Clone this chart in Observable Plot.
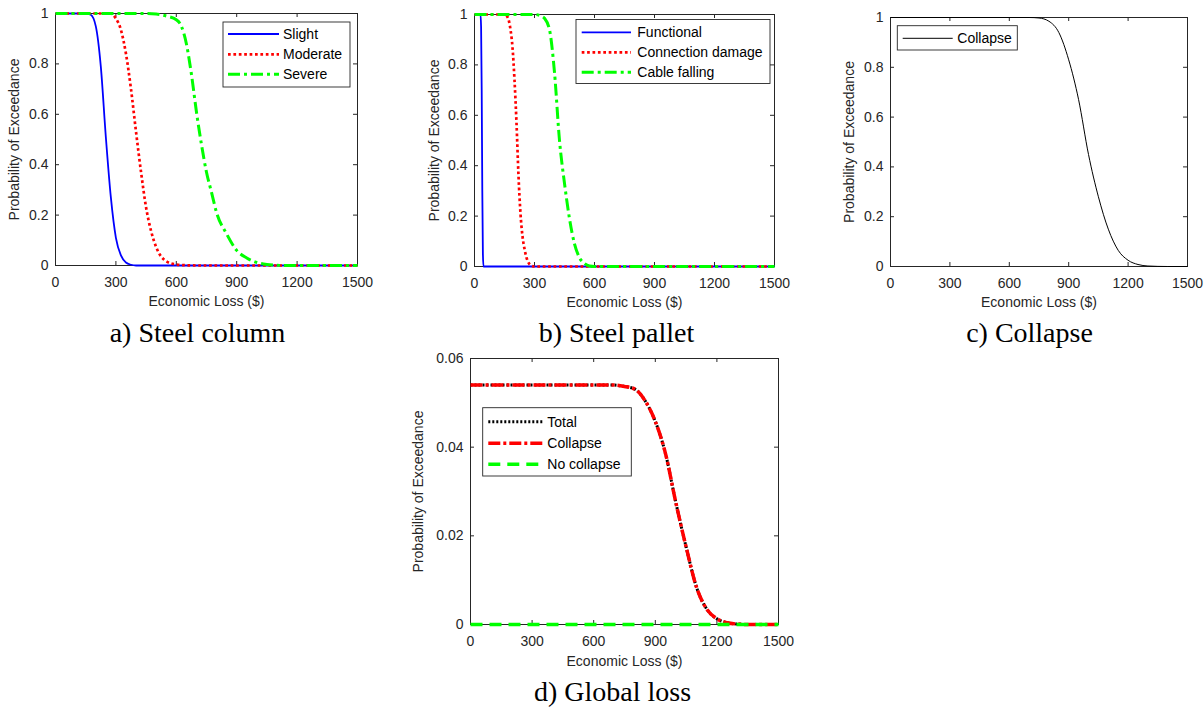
<!DOCTYPE html>
<html><head><meta charset="utf-8">
<script src="https://cdn.jsdelivr.net/npm/d3@7"></script>
<script src="https://cdn.jsdelivr.net/npm/@observablehq/plot@0.6"></script>
<style>
body{margin:0;background:#fff;}
#root{position:relative;width:1204px;height:708px;overflow:hidden;background:#fff;}
.panel{position:absolute;}
</style></head><body><div id="root"></div>
<script>
// ---------- data ----------
const xTicks = [0, 300, 600, 900, 1200, 1500];
const yTicksUnit = [0, 0.2, 0.4, 0.6, 0.8, 1];
const yTicksGlobal = [0, 0.02, 0.04, 0.06];

// a) Steel column
const slightLoss = [0,150,175,200,225,250,275,300,325,350,375,400,1500];
const slightProb = [1,1,0.995,0.95,0.79,0.51,0.27,0.11,0.04,0.012,0.003,0,0];
const moderateLoss = [0,250,275,300,325,350,375,400,425,450,475,500,550,600,650,700,1500];
const moderateProb = [1,1,0.999,0.98,0.935,0.84,0.70,0.53,0.37,0.23,0.136,0.073,0.017,0.004,0.001,0,0];
const severeLoss = [0,450,500,550,600,625,650,675,700,725,750,775,800,850,900,950,1000,1050,1100,1150,1500];
const severeProb = [1,1,0.998,0.99,0.975,0.95,0.88,0.76,0.61,0.48,0.37,0.29,0.21,0.125,0.06,0.03,0.012,0.004,0.001,0,0];

// b) Steel pallet
const functionalLoss = [0,30,33,36,39,42,45,1500];
const functionalProb = [1,1,0.95,0.7,0.3,0.05,0,0];
const connectionLoss = [0,150,165,180,190,200,210,220,230,240,250,260,270,285,300,1500];
const connectionProb = [1,1,0.99,0.94,0.87,0.74,0.57,0.36,0.21,0.12,0.07,0.035,0.015,0.003,0,0];
const cableLoss = [0,300,330,350,375,400,425,450,475,500,525,550,575,600,1500];
const cableProb = [1,1,0.995,0.985,0.94,0.77,0.50,0.33,0.19,0.09,0.035,0.012,0.002,0,0];

// c) Collapse
const collapseLoss = [0,700,750,800,850,900,950,1000,1050,1100,1150,1200,1250,1300,1350,1400,1500];
const collapseProb = [1,1,0.998,0.985,0.94,0.83,0.67,0.45,0.28,0.15,0.065,0.025,0.008,0.002,0.0005,0,0];

// d) Global loss
const globalLoss = [0,700,750,800,850,900,950,1000,1050,1100,1150,1200,1250,1300,1350,1500];
const totalProb = [0.054,0.054,0.0537,0.0531,0.0505,0.0458,0.0385,0.0275,0.0175,0.0085,0.0035,0.0013,0.0004,0.0001,0,0];
const collapseGlobalProb = [0.054,0.054,0.0537,0.0531,0.0505,0.0458,0.0385,0.0275,0.0175,0.0085,0.0035,0.0013,0.0004,0.0001,0,0];
const noCollapseLoss = [0,1500];
const noCollapseProb = [0,0];

// ---------- styles ----------
const AX = "#262626";
const SANS = "'Liberation Sans', Arial, Helvetica, sans-serif";
const SERIF = "'Liberation Serif', 'Times New Roman', serif";
const sBlue = {stroke: "#0000ff", width: 1.8, dash: null};
const sRedDot = {stroke: "#ff0000", width: 2.7, dash: "2.7,2.7"};
const sGreenDD = {stroke: "#00ff00", width: 3, dash: "12,4,3,4"};
const sBlack = {stroke: "#000000", width: 1, dash: null};
const sBlackDot = {stroke: "#000000", width: 3, dash: "2,2"};
const sRedDD = {stroke: "#ff0000", width: 3.5, dash: "12,3,3,3"};
const sGreenDash = {stroke: "#00ff00", width: 3.5, dash: "12,7"};

const toRows = (xs, ys) => xs.map((x, i) => ({x, y: ys[i]}));

function panel(cfg) {
  const pw = cfg.width - cfg.ml - cfg.mr;
  const ph = cfg.height - cfg.mt - cfg.mb;
  const marks = [
    Plot.frame({stroke: AX, strokeWidth: 1}),
    Plot.tickX(xTicks, {x: d => d, insetTop: ph - 4, stroke: AX}),
    Plot.tickX(xTicks, {x: d => d, insetBottom: ph - 4, stroke: AX}),
    Plot.tickY(cfg.yTicks, {y: d => d, insetRight: pw - 4, stroke: AX}),
    Plot.tickY(cfg.yTicks, {y: d => d, insetLeft: pw - 4, stroke: AX}),
    Plot.axisX(xTicks, {tickSize: 0, tickPadding: 12, fontSize: 14, color: AX, label: null, tickFormat: d => String(d)}),
    Plot.axisY(cfg.yTicks, {tickSize: 0, tickPadding: 7, fontSize: 14, color: AX, label: null, tickFormat: d => String(d)}),
    ...cfg.series.map(s => Plot.line(toRows(s.x, s.y), {
      x: "x", y: "y", stroke: s.style.stroke, strokeWidth: s.style.width,
      strokeDasharray: s.style.dash, strokeLinecap: "butt", curve: "monotone-x"
    })),
    Plot.text(["Probability of Exceedance"], {text: d => d, frameAnchor: "left", textAnchor: "middle", dx: -cfg.yLabelOffset, rotate: -90, fontSize: 14, fill: AX}),
    Plot.text(["Economic Loss ($)"], {text: d => d, frameAnchor: "bottom", textAnchor: "middle", dy: cfg.xLabelOffset, fontSize: 14, fill: AX}),
    Plot.text([cfg.caption], {text: d => d, frameAnchor: "bottom", textAnchor: "middle", dx: cfg.capDx, dy: cfg.capDy, lineAnchor: "bottom", fontSize: 28, fontFamily: SERIF, fill: "#000"})
  ];
  const svg = Plot.plot({
    width: cfg.width, height: cfg.height,
    marginLeft: cfg.ml, marginRight: cfg.mr, marginTop: cfg.mt, marginBottom: cfg.mb,
    x: {domain: [0, 1500]},
    y: {domain: cfg.yDomain},
    style: {fontFamily: SANS, fontSize: "14px", color: AX, background: "transparent", overflow: "visible"},
    marks
  });
  // legend
  const L = cfg.legend;
  const g = d3.select(svg).append("g").attr("text-anchor", "start");
  g.append("rect").attr("x", L.x).attr("y", L.y).attr("width", L.w).attr("height", L.h)
    .attr("fill", "#fff").attr("stroke", AX).attr("stroke-width", 0.9);
  cfg.series.forEach((s, i) => {
    const ry = L.rows[i];
    g.append("line").attr("x1", L.lx1).attr("x2", L.lx2).attr("y1", ry).attr("y2", ry)
      .attr("stroke", s.style.stroke).attr("stroke-width", s.style.width)
      .attr("stroke-dasharray", s.style.dash).attr("stroke-linecap", "butt");
    g.append("text").attr("x", L.tx).attr("y", ry).attr("dy", "0.36em")
      .attr("text-anchor", "start")
      .attr("font-size", 14).attr("font-family", SANS).attr("fill", "#000").text(s.name);
  });
  const div = document.createElement("div");
  div.className = "panel";
  div.style.left = cfg.left + "px";
  div.style.top = cfg.top + "px";
  div.appendChild(svg);
  document.getElementById("root").appendChild(div);
}

panel({
  left: 0, top: 0, width: 400, height: 350, ml: 55, mr: 43, mt: 13, mb: 85,
  yDomain: [0, 1], yTicks: yTicksUnit, yLabelOffset: 41, xLabelOffset: 40,
  caption: "a) Steel column", capDx: -9, capDy: 76,
  series: [
    {name: "Slight", x: slightLoss, y: slightProb, style: sBlue},
    {name: "Moderate", x: moderateLoss, y: moderateProb, style: sRedDot},
    {name: "Severe", x: severeLoss, y: severeProb, style: sGreenDD}
  ],
  legend: {x: 223, y: 22, w: 127, h: 65, rows: [34, 54.3, 74.3], lx1: 228, lx2: 279, tx: 283}
});

panel({
  left: 400, top: 0, width: 400, height: 350, ml: 74, mr: 26, mt: 14, mb: 84,
  yDomain: [0, 1], yTicks: yTicksUnit, yLabelOffset: 40, xLabelOffset: 40,
  caption: "b) Steel pallet", capDx: -8, capDy: 75,
  series: [
    {name: "Functional", x: functionalLoss, y: functionalProb, style: sBlue},
    {name: "Connection damage", x: connectionLoss, y: connectionProb, style: sRedDot},
    {name: "Cable falling", x: cableLoss, y: cableProb, style: sGreenDD}
  ],
  legend: {x: 176, y: 19.5, w: 194, h: 64, rows: [32.3, 52.3, 72.3], lx1: 181.7, lx2: 231, tx: 237.3}
});

panel({
  left: 800, top: 0, width: 404, height: 350, ml: 90, mr: 17, mt: 17, mb: 84,
  yDomain: [0, 1], yTicks: yTicksUnit, yLabelOffset: 41, xLabelOffset: 40,
  caption: "c) Collapse", capDx: -9.5, capDy: 75,
  series: [
    {name: "Collapse", x: collapseLoss, y: collapseProb, style: sBlack}
  ],
  legend: {x: 97.3, y: 25.7, w: 120, h: 24.3, rows: [38.3], lx1: 102.7, lx2: 152.7, tx: 157.3}
});

panel({
  left: 400, top: 340, width: 400, height: 368, ml: 70, mr: 22, mt: 18, mb: 84,
  yDomain: [0, 0.06], yTicks: yTicksGlobal, yLabelOffset: 51.5, xLabelOffset: 41,
  caption: "d) Global loss", capDx: -12, capDy: 76,
  series: [
    {name: "Total", x: globalLoss, y: totalProb, style: sBlackDot},
    {name: "Collapse", x: globalLoss, y: collapseGlobalProb, style: sRedDD},
    {name: "No collapse", x: noCollapseLoss, y: noCollapseProb, style: sGreenDash}
  ],
  legend: {x: 82.7, y: 67.7, w: 148.6, h: 68.3, rows: [81.7, 103.3, 124.3], lx1: 88.3, lx2: 142.7, tx: 147.3}
});
</script></body></html>
